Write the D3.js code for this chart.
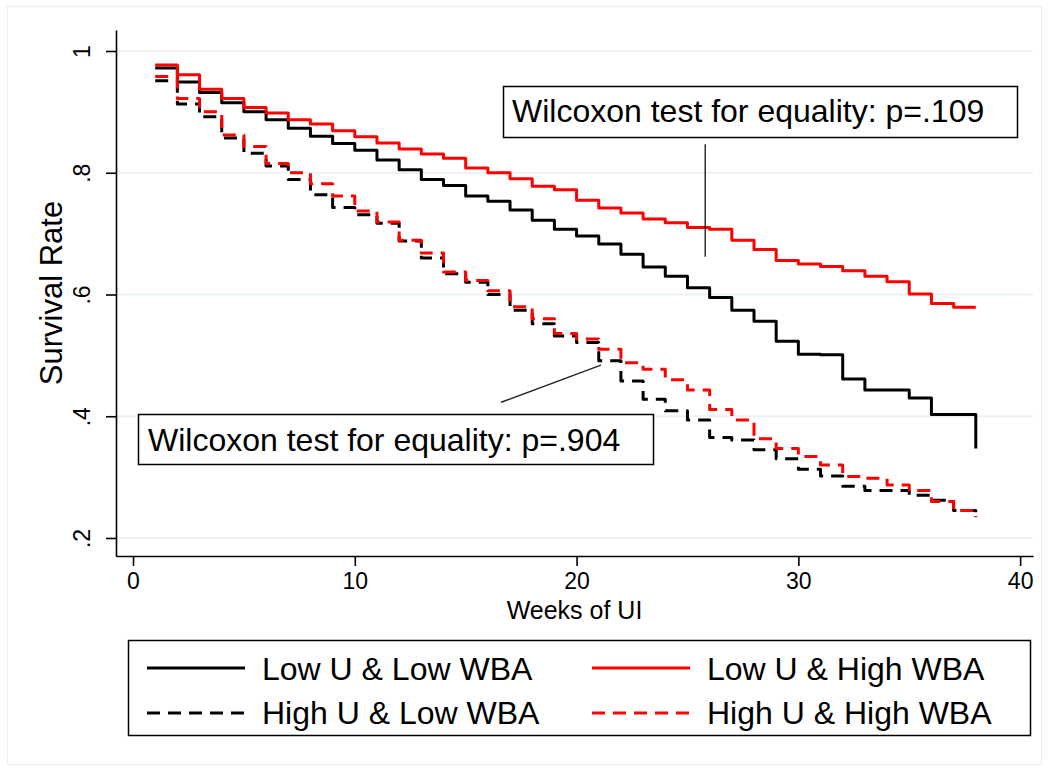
<!DOCTYPE html>
<html>
<head>
<meta charset="utf-8">
<script src="https://cdn.jsdelivr.net/npm/d3@7"></script>
<style>
  html, body { margin: 0; padding: 0; background: #fff; }
  svg { display: block; font-family: "Liberation Sans", Arial, Helvetica, sans-serif; }
</style>
</head>
<body>
<div id="chart"></div>
<script>
// weeks of UI (step times)
var weeks = [1, 2, 3, 4, 5, 6, 7, 8, 9, 10, 11, 12, 13, 14, 15, 16, 17, 18, 19,
             20, 21, 22, 23, 24, 25, 26, 27, 28, 29, 30, 31, 32, 33, 34, 35, 36, 37, 38];

// survival estimates
var lowULowWBA = [0.972, 0.949, 0.932, 0.915, 0.900, 0.887, 0.873, 0.860, 0.848, 0.837,
                  0.821, 0.805, 0.789, 0.779, 0.762, 0.753, 0.739, 0.722, 0.707, 0.696,
                  0.683, 0.666, 0.645, 0.630, 0.611, 0.595, 0.574, 0.556, 0.523, 0.502,
                  0.501, 0.461, 0.443, 0.443, 0.430, 0.403, 0.403, 0.347];
var lowUHighWBA = [0.977, 0.961, 0.937, 0.922, 0.907, 0.898, 0.887, 0.880, 0.869, 0.859,
                   0.849, 0.839, 0.831, 0.824, 0.808, 0.800, 0.790, 0.778, 0.772, 0.755,
                   0.742, 0.734, 0.724, 0.718, 0.710, 0.707, 0.689, 0.674, 0.656, 0.650,
                   0.646, 0.639, 0.630, 0.621, 0.601, 0.585, 0.579, 0.579];
var highULowWBA = [0.951, 0.913, 0.892, 0.857, 0.832, 0.811, 0.789, 0.764, 0.743, 0.731,
                   0.717, 0.688, 0.660, 0.634, 0.620, 0.600, 0.574, 0.552, 0.532, 0.521,
                   0.491, 0.458, 0.428, 0.409, 0.394, 0.365, 0.361, 0.345, 0.330, 0.313,
                   0.302, 0.285, 0.278, 0.278, 0.270, 0.262, 0.245, 0.232];
var highUHighWBA = [0.958, 0.922, 0.900, 0.862, 0.843, 0.815, 0.800, 0.782, 0.762, 0.737,
                    0.719, 0.689, 0.668, 0.637, 0.623, 0.606, 0.580, 0.560, 0.536, 0.527,
                    0.510, 0.488, 0.477, 0.460, 0.443, 0.411, 0.394, 0.363, 0.347, 0.334,
                    0.320, 0.301, 0.298, 0.287, 0.278, 0.260, 0.245, 0.234];

var seriesNames = ['Low U & Low WBA', 'Low U & High WBA', 'High U & Low WBA', 'High U & High WBA'];
var seriesColors = ['#000000', '#ff0000', '#000000', '#ff0000'];
var seriesDashed = [false, false, true, true];
var seriesValues = [lowULowWBA, lowUHighWBA, highULowWBA, highUHighWBA];

var xTicks = [0, 10, 20, 30, 40];
var yTicks = [0.2, 0.4, 0.6, 0.8, 1];
var yTickLabels = ['.2', '.4', '.6', '.8', '1'];

var notes = [
    { text: 'Wilcoxon test for equality: p=.109', week: 25.8, value: 0.662, week2: 25.8, value2: 0.847 },
    { text: 'Wilcoxon test for equality: p=.904', week: 16.6, value: 0.423, week2: 21.1, value2: 0.484 }
];

var W = 1049, H = 771;
var plotLeft = 116, plotRight = 1033, plotTop = 30, plotBottom = 556;
var font = '"Liberation Sans", Arial, Helvetica, sans-serif';

var svg = d3.select('#chart').append('svg')
    .attr('width', W)
    .attr('height', H);

// graph region frame
svg.append('rect')
    .attr('x', 7.5).attr('y', 6.5)
    .attr('width', 1034).attr('height', 758)
    .attr('fill', '#fff')
    .attr('stroke', '#e6eef0')
    .attr('stroke-width', 1);

var x = d3.scaleLinear().domain([-0.767, 40.58]).range([plotLeft, plotRight]);
var y = d3.scaleLinear().domain([0.1704, 1.0345]).range([plotBottom, plotTop]);

// grid lines
svg.append('g').selectAll('line')
    .data(yTicks)
    .enter().append('line')
    .attr('x1', plotLeft).attr('x2', plotRight)
    .attr('y1', function(d) { return y(d); })
    .attr('y2', function(d) { return y(d); })
    .attr('stroke', '#eaf2f3')
    .attr('stroke-width', 2);

// y axis
var yAxis = svg.append('g')
    .attr('transform', 'translate(' + plotLeft + ',0)')
    .call(d3.axisLeft(y).tickValues(yTicks).tickSize(10).tickSizeOuter(0)
        .tickFormat(function(d, i) { return yTickLabels[i]; }));
yAxis.select('.domain').attr('stroke-width', 1.6);
yAxis.selectAll('.tick line').attr('stroke-width', 1.6);
yAxis.selectAll('.tick text')
    .attr('x', null).attr('dy', null)
    .attr('transform', 'translate(-26,0) rotate(-90)')
    .style('text-anchor', 'middle')
    .style('font-family', font)
    .style('font-size', '23px')
    .attr('fill', '#000');

// x axis
var xAxis = svg.append('g')
    .attr('transform', 'translate(0,' + plotBottom + ')')
    .call(d3.axisBottom(x).tickValues(xTicks).tickSize(10).tickSizeOuter(0));
xAxis.select('.domain').attr('stroke-width', 1.6);
xAxis.selectAll('.tick line').attr('stroke-width', 1.6);
xAxis.selectAll('.tick text')
    .attr('y', 33).attr('dy', null)
    .style('font-family', font)
    .style('font-size', '23px')
    .attr('fill', '#000');

// axis titles
svg.append('text')
    .attr('transform', 'translate(62,' + ((plotTop + plotBottom) / 2) + ') rotate(-90)')
    .attr('text-anchor', 'middle')
    .style('font-size', '31px')
    .text('Survival Rate');

svg.append('text')
    .attr('x', (plotLeft + plotRight) / 2)
    .attr('y', 619)
    .attr('text-anchor', 'middle')
    .style('font-size', '25px')
    .text('Weeks of UI');

// survival curves
var line = d3.line()
    .x(function(d) { return x(d.week); })
    .y(function(d) { return y(d.value); })
    .curve(d3.curveStepAfter);

var curves = seriesValues.map(function(vals, i) {
    return {
        name: seriesNames[i],
        color: seriesColors[i],
        dashed: seriesDashed[i],
        points: weeks.map(function(w, j) { return { week: w, value: vals[j] }; })
    };
});

svg.append('g').selectAll('path')
    .data(curves)
    .enter().append('path')
    .attr('d', function(d) { return line(d.points); })
    .attr('fill', 'none')
    .attr('stroke', function(d) { return d.color; })
    .attr('stroke-width', 3)
    .attr('stroke-linejoin', 'round')
    .attr('stroke-dasharray', function(d) { return d.dashed ? '13,8' : null; });

// annotation pointers
svg.append('g').selectAll('line')
    .data(notes)
    .enter().append('line')
    .attr('x1', function(d) { return x(d.week); })
    .attr('y1', function(d) { return y(d.value); })
    .attr('x2', function(d) { return x(d.week2); })
    .attr('y2', function(d) { return y(d.value2); })
    .attr('stroke', '#222')
    .attr('stroke-width', 1.4);

// annotation boxes
var boxes = [
    { x: 503, y: 86, w: 514, h: 51, tx: 512, ty: 122 },
    { x: 138, y: 414, w: 515, h: 50, tx: 148, ty: 451 }
];
boxes.forEach(function(b, i) {
    svg.append('rect')
        .attr('x', b.x + 0.5).attr('y', b.y + 0.5)
        .attr('width', b.w).attr('height', b.h)
        .attr('fill', '#fff')
        .attr('stroke', '#000')
        .attr('stroke-width', 1.5);
    svg.append('text')
        .attr('x', b.tx).attr('y', b.ty)
        .style('font-size', '32px')
        .text(notes[i].text);
});

// legend
var legend = svg.append('g');
legend.append('rect')
    .attr('x', 128.5).attr('y', 640.5)
    .attr('width', 902).attr('height', 95)
    .attr('fill', '#fff')
    .attr('stroke', '#000')
    .attr('stroke-width', 1.5);

var legendPos = [
    { lx: 147, ly: 668, ty: 680 },
    { lx: 592, ly: 668, ty: 680 },
    { lx: 147, ly: 713, ty: 724 },
    { lx: 592, ly: 713, ty: 724 }
];
curves.forEach(function(c, i) {
    var p = legendPos[i];
    legend.append('line')
        .attr('x1', p.lx).attr('x2', p.lx + 98)
        .attr('y1', p.ly).attr('y2', p.ly)
        .attr('stroke', c.color)
        .attr('stroke-width', 3)
        .attr('stroke-dasharray', c.dashed ? '13,8' : null);
    legend.append('text')
        .attr('x', p.lx + 115)
        .attr('y', p.ty)
        .style('font-size', '32px')
        .text(c.name);
});
</script>
</body>
</html>
